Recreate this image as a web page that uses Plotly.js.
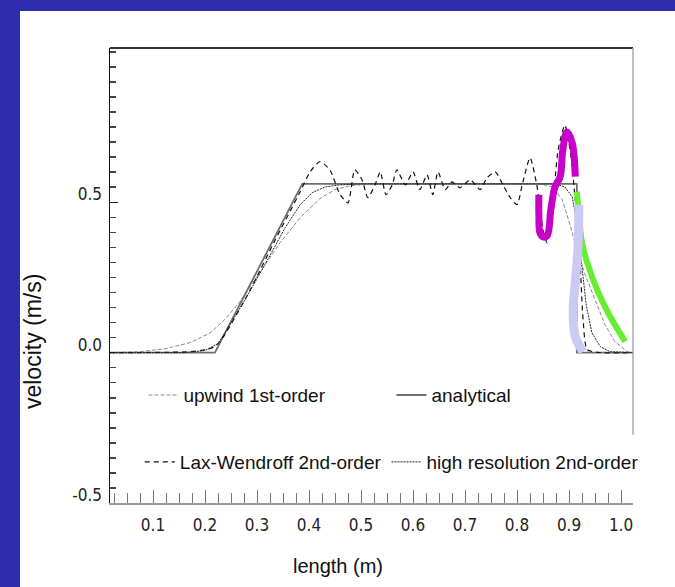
<!DOCTYPE html>
<html>
<head>
<meta charset="utf-8">
<script src="https://cdn.plot.ly/plotly-3.0.1.min.js"></script>
<style>
  html, body { margin: 0; padding: 0; width: 675px; height: 587px; background: #ffffff; overflow: hidden; }
  #bandTop { position: absolute; left: 0; top: 0; width: 100%; height: 11px; background: #2c2cac; }
  #bandLeft { position: absolute; left: 0; top: 0; width: 20px; height: 100%; background: #2c2cac; }
  #chart { position: absolute; left: 20px; top: 11px; width: 655px; height: 576px; background: #fff; }
</style>
</head>
<body>
<div id="bandTop"></div>
<div id="bandLeft"></div>
<div id="chart"></div>
<script>
// ---- data (length in m, velocity in m/s) ----
const analyticalX = [0.017, 0.219, 0.387, 0.915, 0.915, 1.023];
const analyticalY = [0, 0, 0.561, 0.561, 0, 0];

const upwindX = [0.017, 0.075, 0.123, 0.171, 0.210, 0.238, 0.267, 0.306, 0.344, 0.383, 0.421, 0.450, 0.479, 0.517,
                 0.844, 0.869, 0.887, 0.902, 0.915, 0.931, 0.950, 0.969, 0.988, 1.012, 1.023];
const upwindY = [0, 0.003, 0.013, 0.033, 0.066, 0.110, 0.169, 0.269, 0.365, 0.449, 0.512, 0.542, 0.555, 0.561,
                 0.561, 0.551, 0.508, 0.425, 0.342, 0.259, 0.176, 0.093, 0.037, 0.003, 0];

const laxX = [0.017, 0.171, 0.200, 0.219, 0.238, 0.287, 0.335, 0.383, 0.402, 0.421, 0.440, 0.460, 0.475, 0.488,
              0.502, 0.513, 0.527, 0.537, 0.548, 0.560, 0.569, 0.585, 0.600, 0.613, 0.627, 0.638, 0.648, 0.662,
              0.675, 0.690, 0.710, 0.729, 0.742, 0.758, 0.773, 0.787, 0.800, 0.810, 0.825, 0.838, 0.850, 0.858,
              0.867, 0.879, 0.892, 0.902, 0.912, 0.921, 0.927, 0.935, 0.960, 1.023];
const laxY = [0, 0.003, 0.010, 0.020, 0.060, 0.209, 0.375, 0.535, 0.601, 0.635, 0.608, 0.525, 0.498, 0.608,
              0.575, 0.515, 0.558, 0.601, 0.525, 0.558, 0.608, 0.558, 0.601, 0.542, 0.591, 0.525, 0.601, 0.542,
              0.568, 0.548, 0.575, 0.542, 0.581, 0.601, 0.558, 0.515, 0.492, 0.558, 0.648, 0.558, 0.409, 0.365,
              0.458, 0.674, 0.757, 0.674, 0.508, 0.309, 0.110, 0.010, 0, 0];

const hiresX = [0.017, 0.162, 0.200, 0.225, 0.248, 0.277, 0.315, 0.354, 0.383, 0.406, 0.431, 0.460, 0.498,
                0.873, 0.892, 0.906, 0.915, 0.923, 0.933, 0.944, 0.960, 0.979, 1.023];
const hiresY = [0, 0, 0.007, 0.030, 0.093, 0.176, 0.292, 0.415, 0.492, 0.532, 0.551, 0.558, 0.561,
                0.561, 0.551, 0.518, 0.435, 0.302, 0.159, 0.066, 0.020, 0.003, 0];

// hand-drawn highlight strokes
const magentaX = [0.842, 0.842, 0.844, 0.850, 0.858, 0.865, 0.873, 0.883, 0.888, 0.896, 0.906, 0.912];
const magentaY = [0.525, 0.458, 0.399, 0.385, 0.389, 0.475, 0.551, 0.585, 0.674, 0.734, 0.698, 0.585];
const greenX = [0.915, 0.917, 0.925, 0.935, 0.954, 0.979, 1.008];
const greenY = [0.535, 0.498, 0.365, 0.299, 0.209, 0.120, 0.037];
const lavenderX = [0.919, 0.917, 0.912, 0.908, 0.912, 0.927];
const lavenderY = [0.492, 0.342, 0.233, 0.143, 0.053, 0.003];

const xTicks = [0.1, 0.2, 0.3, 0.4, 0.5, 0.6, 0.7, 0.8, 0.9, 1.0];
const xTickText = ['0.1', '0.2', '0.3', '0.4', '0.5', '0.6', '0.7', '0.8', '0.9', '1.0'];
const yTicks = [-0.5, 0, 0.5];
const yTickText = ['-0.5', '0.0', '0.5'];

const labelFont = 'Liberation Sans, Arial, sans-serif';
const tickFont = 'DejaVu Sans Condensed, Liberation Sans Narrow, Arial Narrow, sans-serif';

const traces = [
  { x: upwindX, y: upwindY, mode: 'lines', name: 'upwind 1st-order', legend: 'legend',
    line: { color: '#8a8a8a', width: 1, dash: '4px,2px' } },
  { x: analyticalX, y: analyticalY, mode: 'lines', name: 'analytical', legend: 'legend',
    line: { color: '#6e6e6e', width: 1.8 } },
  { x: laxX, y: laxY, mode: 'lines', name: 'Lax-Wendroff 2nd-order', legend: 'legend2',
    line: { color: '#111', width: 1.2, dash: '5px,4px', shape: 'spline', smoothing: 0.6 } },
  { x: hiresX, y: hiresY, mode: 'lines', name: 'high resolution 2nd-order', legend: 'legend2',
    line: { color: '#222', width: 1, dash: '2px,1px' } },
  { x: greenX, y: greenY, mode: 'lines', showlegend: false, hoverinfo: 'skip',
    line: { color: '#66ee33', width: 6, shape: 'spline' } },
  { x: lavenderX, y: lavenderY, mode: 'lines', showlegend: false, hoverinfo: 'skip',
    line: { color: '#cacaf2', width: 9, shape: 'spline' } },
  { x: magentaX, y: magentaY, mode: 'lines', showlegend: false, hoverinfo: 'skip',
    line: { color: '#c800c8', width: 7, shape: 'spline' } }
];

const layout = {
  width: 655, height: 576,
  margin: { l: 90, r: 42, t: 37, b: 84 },
  paper_bgcolor: '#ffffff', plot_bgcolor: '#ffffff',
  showlegend: true,
  xaxis: {
    range: [0.0173, 1.023], showgrid: false, zeroline: false,
    showline: true, linecolor: '#9a9a9a', linewidth: 1.5,
    tickmode: 'array', tickvals: xTicks, ticktext: xTickText,
    ticks: 'inside', ticklen: 13, tickcolor: '#777', tickwidth: 1,
    minor: { dtick: 0.025, ticks: 'inside', ticklen: 10, tickcolor: '#777', tickwidth: 1 },
    tickfont: { family: tickFont, size: 17, color: '#222' },
    ticklabelstandoff: 6,
    fixedrange: true
  },
  yaxis: {
    range: [-0.5, 1.013], showgrid: false, zeroline: false,
    showline: true, linecolor: '#111', linewidth: 1.5,
    tickmode: 'array', tickvals: yTicks, ticktext: yTickText,
    ticks: 'inside', ticklen: 8, tickcolor: '#222', tickwidth: 1.5,
    minor: { dtick: 0.05, ticks: 'inside', ticklen: 6, tickcolor: '#444', tickwidth: 1.5 },
    tickfont: { family: tickFont, size: 17, color: '#222' },
    ticklabelshift: -8,
    ticklabelstandoff: 3,
    fixedrange: true
  },
  legend: {
    orientation: 'h', x: 0.064, xanchor: 'left', y: 0.237, yanchor: 'middle',
    bgcolor: 'rgba(0,0,0,0)', borderwidth: 0, entrywidth: 203,
    font: { family: labelFont, size: 19, color: '#111' }
  },
  legend2: {
    orientation: 'h', x: 0.057, xanchor: 'left', y: 0.09, yanchor: 'middle',
    bgcolor: 'rgba(0,0,0,0)', borderwidth: 0,
    font: { family: labelFont, size: 19, color: '#111' }
  },
  shapes: [
    { type: 'line', xref: 'paper', yref: 'paper', x0: 0, x1: 1, y0: 1, y1: 1,
      line: { color: '#333', width: 2 } },
    { type: 'line', xref: 'paper', yref: 'paper', x0: 1, x1: 1, y0: 1, y1: 0.15,
      line: { color: '#aaa', width: 1.5 } }
  ],
  annotations: [
    { text: 'velocity (m/s)', xref: 'paper', yref: 'paper', x: -0.147, y: 0.354,
      xanchor: 'center', yanchor: 'middle',
      textangle: -90, showarrow: false, font: { family: labelFont, size: 23, color: '#111' } },
    { text: 'length (m)', xref: 'paper', yref: 'paper', x: 0.436, y: -0.138,
      xanchor: 'center', yanchor: 'middle',
      showarrow: false, font: { family: labelFont, size: 20, color: '#111' } }
  ]
};

Plotly.newPlot('chart', traces, layout, { displayModeBar: false, staticPlot: true });
</script>
</body>
</html>
